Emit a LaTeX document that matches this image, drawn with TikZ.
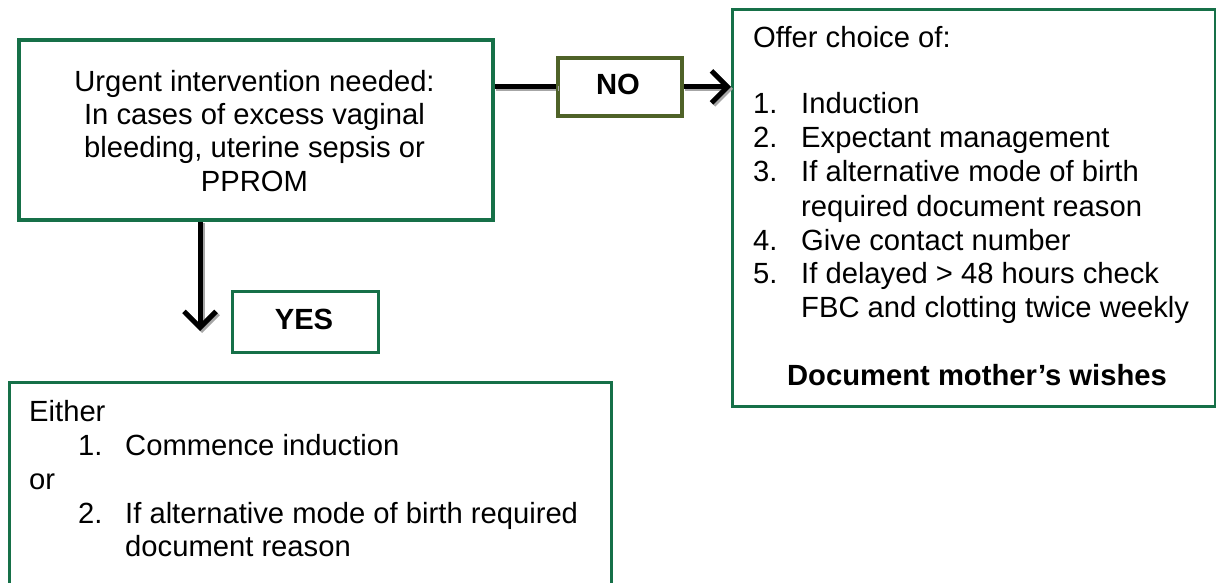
\documentclass[tikz,border=0pt]{standalone}
\usepackage{fontspec}
\setmainfont{Liberation Sans}
\usetikzlibrary{arrows.meta}
\definecolor{boxgreen}{RGB}{22,112,72}
\definecolor{olivegreen}{RGB}{79,98,40}
\begin{document}
\begin{tikzpicture}[x=1pt,y=-1pt,
  box/.style={draw=boxgreen,line width=2.8pt,inner sep=0pt,fill=white,anchor=north west},
  txt/.style={anchor=base west,inner sep=0pt,font=\fontsize{29.2}{34}\selectfont},
  ctxt/.style={anchor=base,inner sep=0pt,font=\fontsize{29.2}{34}\selectfont},
  btxt/.style={anchor=base,inner sep=0pt,font=\fontsize{29.2}{34}\selectfont\bfseries},
  conn/.style={line width=5pt,black},
  arr/.style={conn,-{Straight Barb[length=16pt,width=32pt]}},
  shadowline/.style={line width=5pt,black!35,transform canvas={xshift=2pt,yshift=-2pt}},
  shadowarr/.style={shadowline,-{Straight Barb[length=16pt,width=32pt]}}]
\useasboundingbox (0,0) rectangle (1216,583);
\clip (0,0) rectangle (1216,583);

% boxes
\node[box,minimum width=473pt,minimum height=179pt] (urgent) at (18,39) {};
\node[box,minimum width=483pt,minimum height=397pt] (offer) at (731,8) {};
\node[box,minimum width=602pt,minimum height=230pt] (either) at (8,381) {};
\node[box,draw=olivegreen,minimum width=123pt,minimum height=57pt] (no) at (557,57) {};
\node[box,minimum width=146pt,minimum height=61pt] (yes) at (231,290) {};
\coordinate (downtip) at (200,331);

% connectors
\draw[shadowline] (urgent.east |- no.west) -- (no.west);
\draw[shadowarr] (no.east) -- (no.east -| offer.west);
\draw[shadowarr] (urgent.south -| downtip) -- (downtip);
\draw[conn] (urgent.east |- no.west) -- (no.west);
\draw[arr] (no.east) -- (no.east -| offer.west);
\draw[arr] (urgent.south -| downtip) -- (downtip);

% redraw box borders over line ends
\draw[boxgreen,line width=2.8pt] (urgent.north west) rectangle (urgent.south east);
\draw[olivegreen,line width=2.8pt] (no.north west) rectangle (no.south east);

% labels
\node[btxt] (nolbl) at (618,95) {NO};
\node[btxt] (yeslbl) at (304,329) {YES};

% urgent text
\node[ctxt] (u1) at (254.5,92) {Urgent intervention needed:};
\node[ctxt] (u2) at (254.5,125) {In cases of excess vaginal};
\node[ctxt] (u3) at (254.5,158) {bleeding, uterine sepsis or};
\node[ctxt] (u4) at (254.5,192) {PPROM};

% offer text
\node[txt] (o0) at (753,48) {Offer choice of:};
\node[txt] (o1n) at (753,114) {1.};
\node[txt] (o1) at (801,114) {Induction};
\node[txt] (o2n) at (753,148) {2.};
\node[txt] (o2) at (801,148) {Expectant management};
\node[txt] (o3n) at (753,182) {3.};
\node[txt] (o3) at (801,182) {If alternative mode of birth};
\node[txt] (o3b) at (801,216) {required document reason};
\node[txt] (o4n) at (753,250) {4.};
\node[txt] (o4) at (801,250) {Give contact number};
\node[txt] (o5n) at (753,283) {5.};
\node[txt] (o5) at (801,283) {If delayed > 48 hours check};
\node[txt] (o5b) at (801,317) {FBC and clotting twice weekly};
\node[btxt] (owish) at (977,385) {Document mother’s wishes};

% either text
\node[txt] (e0) at (29,421) {Either};
\node[txt] (e1n) at (78,455) {1.};
\node[txt] (e1) at (125,455) {Commence induction};
\node[txt] (eor) at (29,489) {or};
\node[txt] (e2n) at (78,523) {2.};
\node[txt] (e2) at (125,523) {If alternative mode of birth required};
\node[txt] (e2b) at (125,556) {document reason};
\end{tikzpicture}
\end{document}
